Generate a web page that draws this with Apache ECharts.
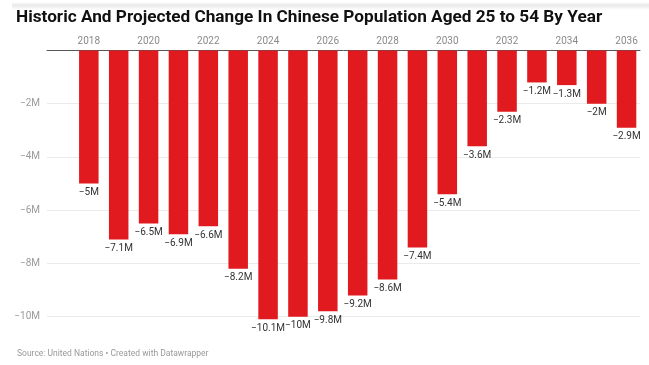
<!DOCTYPE html>
<html>
<head>
<meta charset="utf-8">
<script src="https://cdn.jsdelivr.net/npm/echarts@6/dist/echarts.min.js"></script>
<style>
html,body{margin:0;padding:0;background:#fff;}
#chart{width:649px;height:365px;}
</style>
</head>
<body>
<div id="chart"></div>
<script>
const years = [2018,2019,2020,2021,2022,2023,2024,2025,2026,2027,2028,2029,2030,2031,2032,2033,2034,2035,2036];
const changeMillions = [-5,-7.1,-6.5,-6.9,-6.6,-8.2,-10.1,-10,-9.8,-9.2,-8.6,-7.4,-5.4,-3.6,-2.3,-1.2,-1.3,-2,-2.9];
const yearTicks = [2018,2020,2022,2024,2026,2028,2030,2032,2034,2036];
const yTicks = [-10,-8,-6,-4,-2];

const title = 'Historic And Projected Change In Chinese Population Aged 25 to 54 By Year';
const source = 'Source: United Nations \u2022 Created with Datawrapper';

const fmt = v => (v < 0 ? '\u2212' : '') + Math.abs(v) + 'M';

const chart = echarts.init(document.getElementById('chart'), null, {renderer:'canvas'});
chart.setOption({
  animation:false,
  backgroundColor:'#fff',
  graphic:[
    {type:'rect', left:12, top:2, shape:{width:637, height:8},
     style:{fill:new echarts.graphic.LinearGradient(0,0,0,1,[{offset:0,color:'#ffffff'},{offset:0.4,color:'#e9e9e9'},{offset:1,color:'#ffffff'}])}, silent:true},
    {type:'text', x:16, y:9, scaleX:1.012, style:{text:title, font:'bold 17px Roboto, sans-serif', fill:'#111', verticalAlign:'top'}},
    {type:'text', left:17, top:349, style:{text:source, font:'8.5px Roboto, sans-serif', fill:'#999'}}
  ],
  grid:{left:47, right:9, top:50.5, bottom:43, containLabel:false},
  xAxis:{
    type:'value', position:'top',
    min:2016.6, max:2036.45,
    axisLine:{show:true, onZero:false, lineStyle:{color:'#555', width:1}},
    axisTick:{show:false},
    splitLine:{show:false},
    axisLabel:{customValues:yearTicks, color:'#8a8a8a', fontSize:10, fontFamily:'Roboto', margin:4, formatter:v=>String(v)}
  },
  yAxis:{
    type:'value', min:-10.2, max:0,
    axisLine:{show:false},
    axisTick:{show:false, customValues:yTicks},
    axisLabel:{customValues:yTicks, color:'#9a9a9a', fontSize:10, fontFamily:'Roboto', margin:7, formatter:v=>fmt(v)},
    splitLine:{show:true, lineStyle:{color:'#ebebeb', width:1}}
  },
  series:[{
    type:'bar',
    data:years.map((y,i)=>[y, changeMillions[i]]),
    barWidth:19.5,
    itemStyle:{color:'#e01a1f'},
    label:{show:true, position:'bottom', distance:4, color:'#333', fontSize:10, fontFamily:'Roboto',
      formatter:p=>fmt(p.value[1])}
  }]
});
</script>
</body>
</html>
